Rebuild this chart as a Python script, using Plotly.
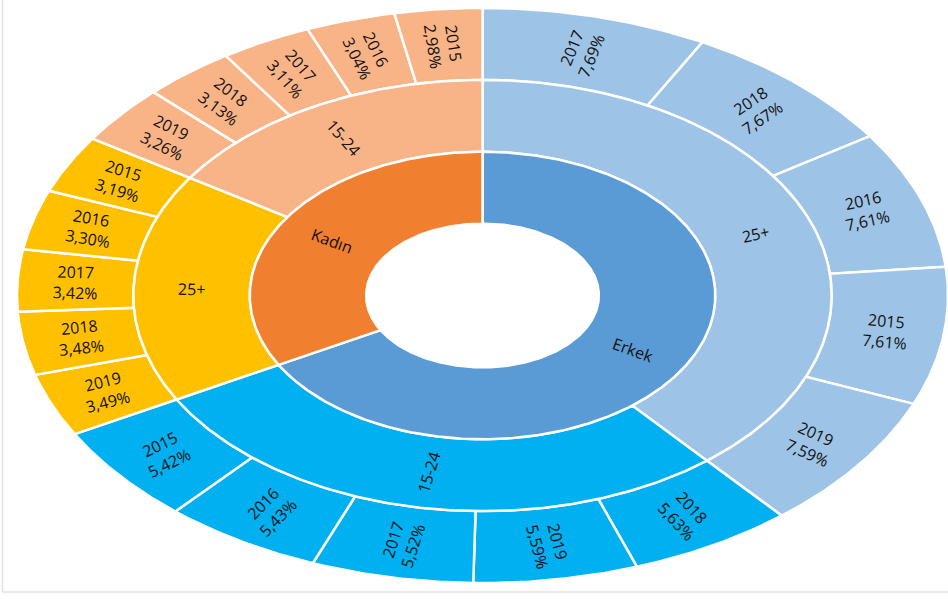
import numpy as np
import plotly.graph_objects as go

# ---------------- data ----------------
genders = ["Erkek", "Kadın"]
erkek_ages = ["25+", "15-24"]
kadin_ages = ["25+", "15-24"]

erkek_25_years = ["2017", "2018", "2016", "2015", "2019"]
erkek_25_values = [7.69, 7.67, 7.61, 7.61, 7.59]
erkek_1524_years = ["2018", "2019", "2017", "2016", "2015"]
erkek_1524_values = [5.63, 5.59, 5.52, 5.43, 5.42]
kadin_25_years = ["2019", "2018", "2017", "2016", "2015"]
kadin_25_values = [3.49, 3.48, 3.42, 3.30, 3.19]
kadin_1524_years = ["2019", "2018", "2017", "2016", "2015"]
kadin_1524_values = [3.26, 3.13, 3.11, 3.04, 2.98]

# ---------------- styles ----------------
gender_colors = {"Erkek": "#5B9BD5", "Kadın": "#F0802F"}
age_colors = {("Erkek", "25+"): "#9DC3E6", ("Erkek", "15-24"): "#00B0F0",
              ("Kadın", "25+"): "#FFC000", ("Kadın", "15-24"): "#F8B386"}
RINGS = [(0.25, 0.5), (0.5, 0.75), (0.75, 1.0)]
PX_A, PX_B = 465.5, 287.5  # pixel half-axes of the plot area
FONT = dict(family="Open Sans", size=16, color="#111111")

tree = {
    "Erkek": [("25+", erkek_25_years, erkek_25_values),
              ("15-24", erkek_1524_years, erkek_1524_values)],
    "Kadın": [("25+", kadin_25_years, kadin_25_values),
              ("15-24", kadin_1524_years, kadin_1524_values)],
}

total = sum(sum(v) for g in genders for _, _, v in tree[g])

fig = go.Figure()
annotations = []


def wedge(t0, t1, r0, r1, color):
    ts = np.linspace(t0, t1, max(8, int(abs(t1 - t0) * 2)))
    tr = np.radians(ts)
    xo, yo = r1 * np.sin(tr), r1 * np.cos(tr)
    xi, yi = r0 * np.sin(tr[::-1]), r0 * np.cos(tr[::-1])
    x = np.concatenate([xo, xi, xo[:1]])
    y = np.concatenate([yo, yi, yo[:1]])
    fig.add_trace(go.Scatter(x=x, y=y, mode="lines", fill="toself",
                             fillcolor=color, line=dict(color="white", width=2.5),
                             hoverinfo="skip", showlegend=False))


def label(t0, t1, r0, r1, text):
    tc = (t0 + t1) / 2
    rc = (r0 + r1) / 2
    tr = np.radians(tc)
    dx, dy = PX_A * np.sin(tr), -PX_B * np.cos(tr)
    if dx < 0:
        dx, dy = -dx, -dy
    ang = np.degrees(np.arctan2(dy, dx))
    annotations.append(dict(x=rc * np.sin(tr), y=rc * np.cos(tr), xref="x", yref="y",
                            text=text, showarrow=False, textangle=float(ang),
                            font=FONT, align="center"))


cum = 0.0
for g in genders:
    g_start = cum
    for age, years, vals in tree[g]:
        a_start = cum
        for yr, v in zip(years, vals):
            t0, t1 = cum / total * 360, (cum + v) / total * 360
            wedge(t0, t1, *RINGS[2], age_colors[(g, age)])
            label(t0, t1, *RINGS[2], f"{yr}<br>{v:.2f}%".replace(".", ","))
            cum += v
        t0, t1 = a_start / total * 360, cum / total * 360
        wedge(t0, t1, *RINGS[1], age_colors[(g, age)])
        label(t0, t1, *RINGS[1], age)
    t0, t1 = g_start / total * 360, cum / total * 360
    wedge(t0, t1, *RINGS[0], gender_colors[g])
    label(t0, t1, *RINGS[0], g)

# frame lines (light grey border of the original picture)
W, H = 948, 599
ML, MR, MT, MB = 17, 0, 8, 16
pw, ph = W - ML - MR, H - MT - MB


def px_to_paper(px, py):
    return (px - ML) / pw, (H - MB - py) / ph


x0, y0 = px_to_paper(2.5, 0)
x1, y1 = px_to_paper(2.5, 592)
x2, _ = px_to_paper(948, 592)
shapes = [
    dict(type="line", xref="paper", yref="paper", x0=x0, y0=y0, x1=x1, y1=y1,
         line=dict(color="#E3E3E3", width=1.5)),
    dict(type="line", xref="paper", yref="paper", x0=x1, y0=y1, x1=x2, y1=y1,
         line=dict(color="#E3E3E3", width=1.5)),
]

fig.update_layout(
    width=W, height=H, autosize=False,
    margin=dict(l=ML, r=MR, t=MT, b=MB),
    paper_bgcolor="white", plot_bgcolor="white",
    xaxis=dict(range=[-1, 1], visible=False, fixedrange=True),
    yaxis=dict(range=[-1, 1], visible=False, fixedrange=True),
    annotations=annotations, shapes=shapes,
    showlegend=False,
)

fig.write_html("out.html", config={"displayModeBar": False},
               post_script="document.body.style.margin='0';document.body.style.overflow='hidden';")
